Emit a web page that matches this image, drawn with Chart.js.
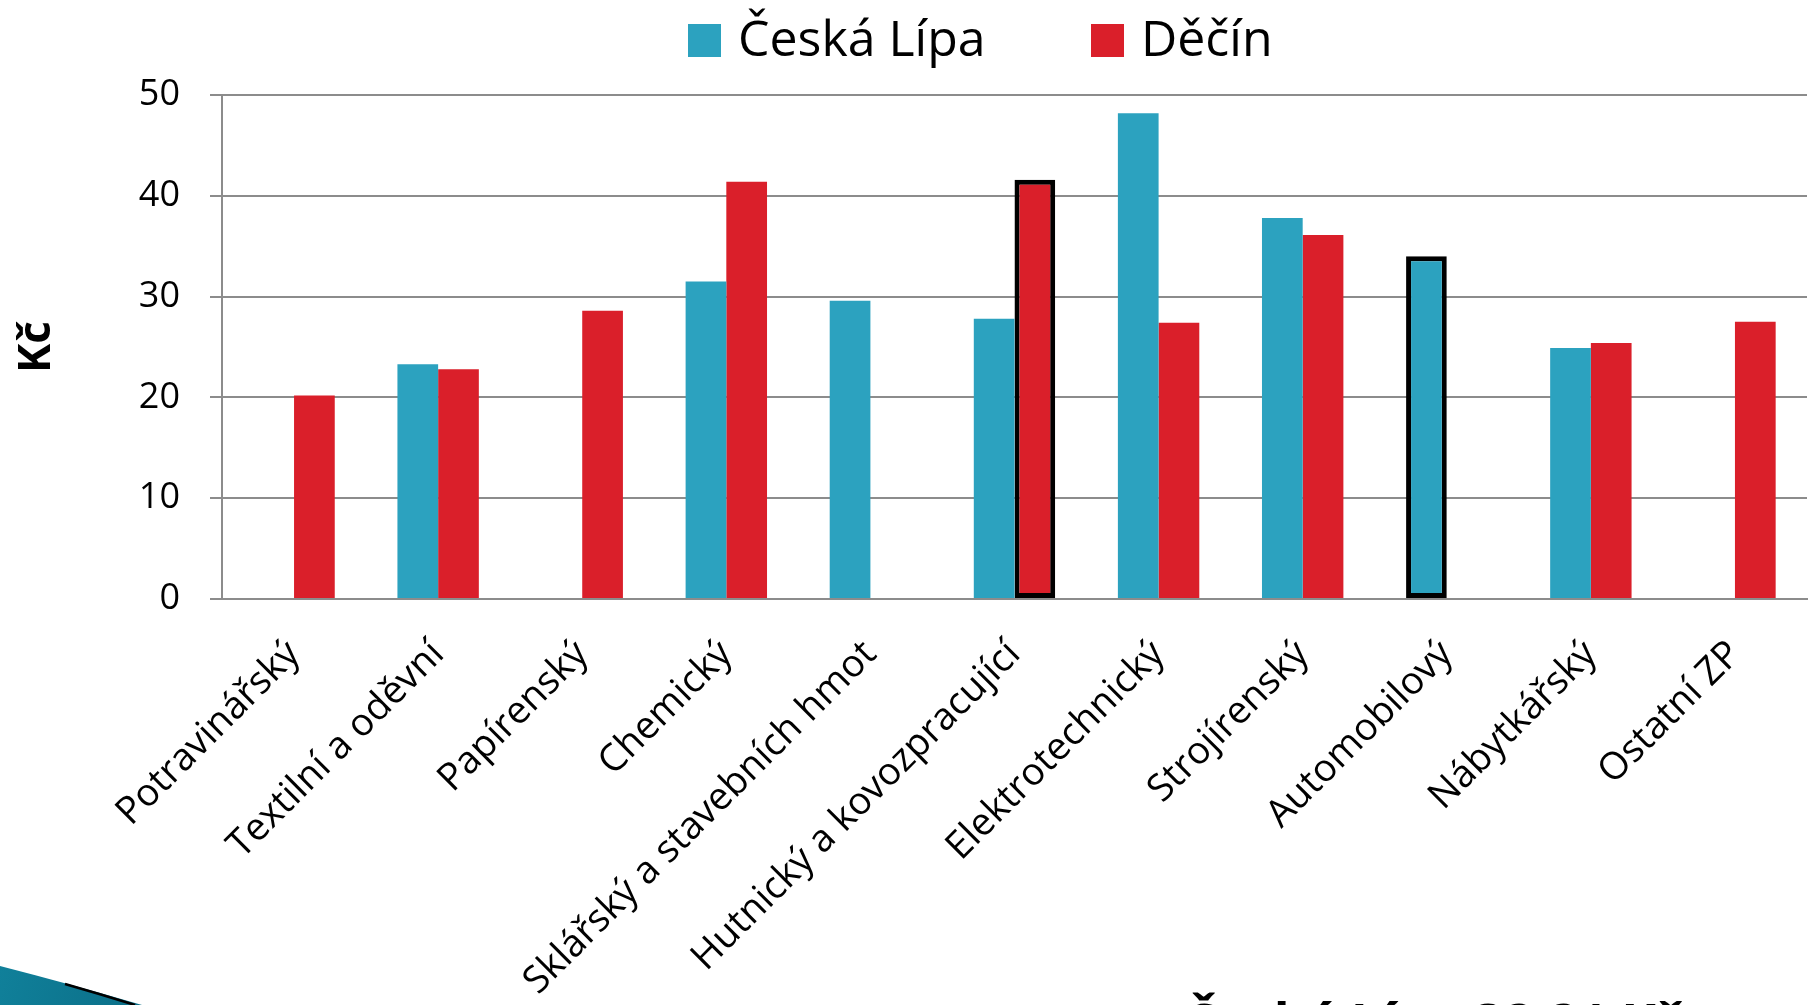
<!DOCTYPE html>
<html lang="cs">
<head>
<meta charset="utf-8">
<title>Kč podle odvětví</title>
<script src="https://cdn.jsdelivr.net/npm/chart.js@4"></script>
<style>
  html, body { margin: 0; padding: 0; background: #fff; overflow: hidden; }
  #wrap { position: relative; width: 1820px; height: 1005px; overflow: hidden; }
  #myChart { position: absolute; left: 0; top: 0; }
  .legend { position: absolute; top: 2px; height: 70px; display: flex; align-items: center;
            font-family: 'Open Sans', sans-serif; font-size: 50px; color: #000; }
  .legend span.box { display: inline-block; width: 33px; height: 33px; margin-right: 17px; margin-top: 6px; }
  .footer { position: absolute; left: 1184px; top: 985px; font-family: 'Open Sans', sans-serif;
            font-weight: bold; font-size: 52px; color: #000; white-space: nowrap; }
</style>
</head>
<body>
<div id="wrap">
  <canvas id="myChart" width="1820" height="1005"></canvas>
  <div class="legend" style="left:688px"><span class="box" style="background:#2CA2BF"></span>Česká Lípa</div>
  <div class="legend" style="left:1091px"><span class="box" style="background:#DA1F2A"></span>Děčín</div>
  <div class="footer">Česká Lípa 32,21 Kč</div>
</div>
<script>
// categories
let aBranch = [
    'Potravinářský', 'Textilní a oděvní', 'Papírenský', 'Chemický',
    'Sklářský a stavebních hmot', 'Hutnický a kovozpracující', 'Elektrotechnický',
    'Strojírenský', 'Automobilový', 'Nábytkářský', 'Ostatní ZP'
];

// values in Kč (null = no bar)
let aCeskaLipa = [null, 23.3, null, 31.5, 29.6, 27.8, 48.2, 37.8, 34.0, 24.9, null];
let aDecin     = [20.2, 22.8, 28.6, 41.4, null, 41.6, 27.4, 36.1, null, 25.4, 27.5];

// highlighted (outlined) bars
let aOutlineCL = [8];
let aOutlineDC = [5];

let yTicks = [0, 10, 20, 30, 40, 50];

const fontFamily = "'Open Sans', sans-serif";

// teal swoosh from the slide template, bottom left
const swooshPlugin = {
    id: 'swoosh',
    afterDraw(chart) {
        const c = chart.ctx;
        c.save();
        c.beginPath();
        c.moveTo(0, 966);
        c.quadraticCurveTo(70, 984, 142, 1005);
        c.lineTo(0, 1005);
        c.closePath();
        const g = c.createLinearGradient(0, 966, 140, 1005);
        g.addColorStop(0, '#10809a');
        g.addColorStop(1, '#0b6f88');
        c.fillStyle = g;
        c.fill();
        c.beginPath();
        c.moveTo(65, 984);
        c.quadraticCurveTo(100, 994, 135, 1005);
        c.strokeStyle = '#000';
        c.lineWidth = 2.5;
        c.stroke();
        c.restore();
    }
};

const ctx = document.getElementById('myChart').getContext('2d');
let myChart = new Chart(ctx, {
    type: 'bar',
    data: {
        labels: aBranch,
        datasets: [{
            label: 'Česká Lípa',
            data: aCeskaLipa,
            backgroundColor: '#2CA2BF',
            borderColor: '#000',
            borderWidth: aCeskaLipa.map((v, i) => aOutlineCL.includes(i) ? 5 : 0),
            borderSkipped: false,
            categoryPercentage: 0.565,
            barPercentage: 1.0
        }, {
            label: 'Děčín',
            data: aDecin,
            backgroundColor: '#DA1F2A',
            borderColor: '#000',
            borderWidth: aDecin.map((v, i) => aOutlineDC.includes(i) ? 5 : 0),
            borderSkipped: false,
            categoryPercentage: 0.565,
            barPercentage: 1.0
        }]
    },
    options: {
        responsive: false,
        animation: false,
        devicePixelRatio: 1,
        layout: { padding: { top: 95, left: 0, right: 13, bottom: 0 } },
        scales: {
            x: {
                grid: { display: false, drawTicks: false },
                border: { display: true, color: '#8c8c8c', width: 2 },
                ticks: {
                    autoSkip: false,
                    minRotation: 45,
                    maxRotation: 45,
                    padding: 33,
                    color: '#000',
                    font: { family: fontFamily, size: 38 }
                },
                afterFit(scale) { scale.height = 406; }
            },
            y: {
                min: 0,
                max: 50,
                afterBuildTicks(scale) { scale.ticks = yTicks.map(v => ({ value: v })); },
                grid: { color: '#8c8c8c', lineWidth: 2, tickLength: 12 },
                border: { display: true, color: '#8c8c8c', width: 2 },
                ticks: {
                    padding: 30,
                    color: '#000',
                    font: { family: fontFamily, size: 36 }
                },
                title: {
                    display: true,
                    text: 'Kč',
                    color: '#000',
                    padding: { top: 11, bottom: 0 },
                    font: { family: fontFamily, size: 44, weight: 'bold' }
                },
                afterFit(scale) { scale.width = 222; }
            }
        },
        plugins: {
            legend: { display: false },
            tooltip: { enabled: false }
        }
    },
    plugins: [swooshPlugin]
});
</script>
</body>
</html>
